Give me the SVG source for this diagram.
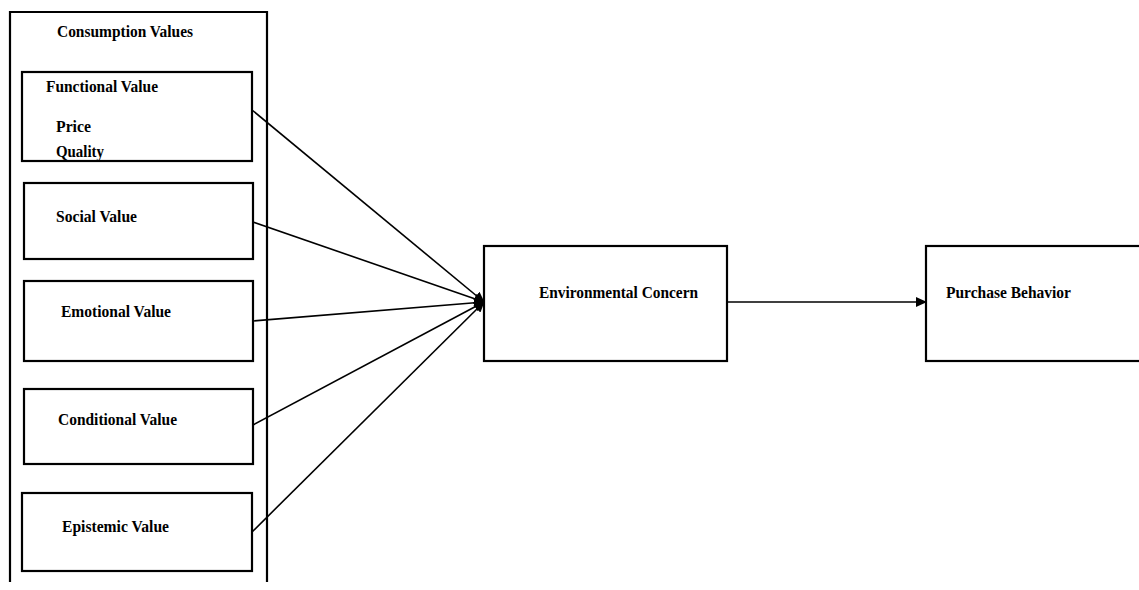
<svg xmlns="http://www.w3.org/2000/svg" width="1139" height="590" viewBox="0 0 1139 590">
<style>
.box{fill:#fff;stroke:#000;stroke-width:2.2}
.t{font-family:"Liberation Serif",serif;font-weight:bold;font-size:16.5px;fill:#000}
.c{stroke:#000;stroke-width:1.6;fill:none}
</style>
<defs>
<marker id="ah" markerWidth="11" markerHeight="10" refX="10" refY="5" orient="auto" markerUnits="userSpaceOnUse">
<path d="M0,0 L11,5 L0,10 Z" fill="#000"/>
</marker>
</defs>
<rect width="1139" height="590" fill="#fff"/>
<g id="consumption-values">
<path d="M10,582 V12 H267 V582" fill="none" stroke="#000" stroke-width="2.2"/>
<text class="t" x="57" y="37" textLength="136" lengthAdjust="spacingAndGlyphs">Consumption Values</text>
</g>
<g id="functional-value">
<rect class="box" x="22" y="72" width="230" height="89"/>
<text class="t" x="46" y="92" textLength="112" lengthAdjust="spacingAndGlyphs">Functional Value</text>
<text class="t" x="56" y="132" textLength="35" lengthAdjust="spacingAndGlyphs">Price</text>
<text class="t" x="56" y="157" textLength="48" lengthAdjust="spacingAndGlyphs">Quality</text>
</g>
<g id="social-value">
<rect class="box" x="24" y="183" width="229" height="76"/>
<text class="t" x="56" y="222" textLength="81" lengthAdjust="spacingAndGlyphs">Social Value</text>
</g>
<g id="emotional-value">
<rect class="box" x="24" y="281" width="229" height="80"/>
<text class="t" x="61" y="317" textLength="110" lengthAdjust="spacingAndGlyphs">Emotional Value</text>
</g>
<g id="conditional-value">
<rect class="box" x="24" y="389" width="229" height="75"/>
<text class="t" x="58" y="425" textLength="119" lengthAdjust="spacingAndGlyphs">Conditional Value</text>
</g>
<g id="epistemic-value">
<rect class="box" x="22" y="493" width="230" height="78"/>
<text class="t" x="62" y="532" textLength="107" lengthAdjust="spacingAndGlyphs">Epistemic Value</text>
</g>
<g id="environmental-concern">
<rect class="box" x="484" y="246" width="243" height="115"/>
<text class="t" x="539" y="298" textLength="159" lengthAdjust="spacingAndGlyphs">Environmental Concern</text>
</g>
<g id="purchase-behavior">
<rect class="box" x="926" y="246" width="220" height="115"/>
<text class="t" x="946" y="298" textLength="125" lengthAdjust="spacingAndGlyphs">Purchase Behavior</text>
</g>
<g id="connectors">
<line class="c" x1="252" y1="110" x2="484" y2="302" marker-end="url(#ah)"/>
<line class="c" x1="253" y1="222" x2="484" y2="302" marker-end="url(#ah)"/>
<line class="c" x1="253" y1="321" x2="484" y2="302" marker-end="url(#ah)"/>
<line class="c" x1="253" y1="425" x2="484" y2="302" marker-end="url(#ah)"/>
<line class="c" x1="252" y1="532" x2="484" y2="302" marker-end="url(#ah)"/>
<line class="c" x1="727" y1="302" x2="926" y2="302" marker-end="url(#ah)"/>
</g>
</svg>
